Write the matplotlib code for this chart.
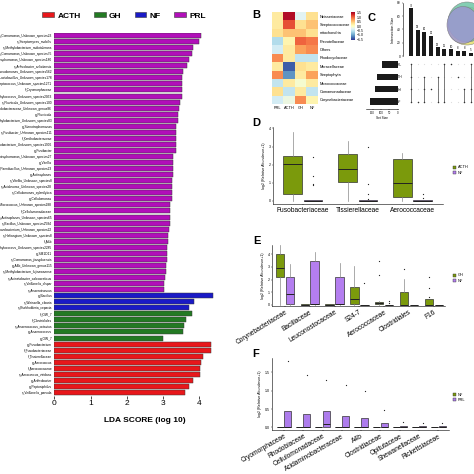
import numpy as np
import matplotlib.pyplot as plt
from matplotlib.patches import Patch, Ellipse
from matplotlib.lines import Line2D

plt.rcParams['font.family'] = ['Liberation Sans', 'DejaVu Sans']

# ---------------- A: LEfSe LDA scores ----------------
prl_names = ['s_Comamonas_Unknown_species23', 's_Streptomyces_mobilis', 's_Methylobacterium_radiotolerans',
             's_Comamonas_Unknown_species75', 's_Stenotrophomonas_Unknown_species180', 's_Arthrobacter_arilaitensis',
             's_Pseudomonas_Unknown_species562', 's_Lactobacillus_Unknown_species178', 's_Streptococcus_Unknown_species1271',
             'f_Cryomorphaceae', 's_Staphylococcus_Unknown_species2053', 's_Fluviicola_Unknown_species100',
             's_Rhodobacteraceae_Unknown_genus86', 'g_Fluviicola', 's_Methylobacterium_Unknown_species83',
             'g_Stenotrophomonas', 's_Fusibacter_Unknown_species111', 'f_Xanthobacteraceae',
             's_Methylobacterium_Unknown_species1906', 'g_Fusibacter', 's_Stenotrophomonas_Unknown_species27',
             'g_Vitellia', 's_Paenibacillus_Unknown_species23', 'g_Actinoplanes', 's_Vitellia_Unknown_species8',
             's_Acidovorax_Unknown_species28', 's_Cellulomonas_xylanilytica', 'g_Cellulomonas',
             's_Micrococcus_Unknown_species288', 'f_Cellulomonadaceae', 's_Actinoplanes_Unknown_species65',
             's_Bacillus_Unknown_species2584', 's_Flavobacterium_Unknown_species22', 's_Haliangium_Unknown_species8',
             'f_A4b', 's_Staphylococcus_Unknown_species2285', 'g_SM1D11', 's_Comamonas_jiangduensis',
             'g_A4b_Unknown_genus115', 's_Methylobacterium_fujisawaense', 's_Acinetobacter_calcoaceticus',
             's_Veillonella_dispar', 's_Anaerotruncus']
prl_lda = [4.05, 3.98, 3.83, 3.81, 3.73, 3.67, 3.55, 3.53, 3.53, 3.51, 3.51, 3.46, 3.44, 3.42,
           3.41, 3.36, 3.35, 3.35, 3.35, 3.35, 3.28, 3.28, 3.28, 3.28, 3.26, 3.25, 3.24, 3.24,
           3.20, 3.20, 3.20, 3.19, 3.17, 3.15, 3.13, 3.12, 3.11, 3.10, 3.09, 3.07, 3.06, 3.04, 3.02]
nf_names = ['g_Bacillus', 's_Weissella_cibaria', 's_Burkholderia_cepacia']
nf_lda = [4.37, 3.86, 3.71]
gh_names = ['f_iOW_7', 'f_Clostridiales', 's_Anaerococcus_octavius', 'g_Anaerococcus', 'g_OW_7']
gh_lda = [3.81, 3.63, 3.58, 3.54, 3.00]
acth_names = ['g_Fusobacterium', 'f_Fusobacteriaceae', 'f_Tissierellaceae', 'g_Aerococcus',
              'f_Aerococcaceae', 's_Aerococcus_viridans', 'g_Arthrobacter', 'g_Peptoniphilus',
              's_Veillonella_parvula']
acth_lda = [4.32, 4.32, 4.10, 4.05, 4.03, 4.03, 3.82, 3.71, 3.60]

lefse_colors = {'ACTH': '#e8171b', 'GH': '#237a23', 'NF': '#1a1ac6', 'PRL': '#b10fb9'}

# ---------------- B: heatmap ----------------
hm_rows = ['Neisseriaceae', 'Streptococcaceae', 'mitochondria', 'Prevotellaceae', 'Others',
           'Rhodocyclaceae', 'Moraxellaceae', 'Streptophyta', 'Micrococcaceae',
           'Comamonadaceae', 'Corynebacteriaceae']
hm_cols = ['PRL', 'ACTH', 'GH', 'NF']
hm_vals = [[0.2, 1.5, -0.3, 0.3],
           [0.2, 1.1, 0.3, 0.5],
           [0.3, 0.5, 0.5, 0.3],
           [-0.6, 0.1, 1.0, 0.9],
           [-0.4, 0.2, 0.7, 0.8],
           [0.8, 0.2, -0.5, -0.5],
           [0.2, -1.4, 0.3, 0.2],
           [0.8, -1.1, 0.2, 0.7],
           [-0.5, 0.2, -0.1, 0.2],
           [0.3, -0.5, 0.2, -0.5],
           [-0.4, -0.2, 0.8, 0.1]]

# ---------------- C: upset ----------------
inter_sizes = [72, 39, 36, 30, 13, 11, 10, 8, 8, 5]
set_names = ['PRL', 'ACTH', 'GH', 'NF']
set_sizes = [95, 125, 137, 165]
membership = [[1, 1, 1, 1], [0, 0, 0, 1], [0, 1, 1, 1], [0, 0, 1, 0], [0, 1, 0, 1],
              [1, 0, 0, 1], [1, 0, 0, 0], [0, 1, 0, 0], [0, 0, 1, 1], [1, 0, 1, 1]]

# ---------------- D: ACTH vs NF ----------------
d_cats = ['Fusobacteriaceae', 'Tissierellaceae', 'Aerococcaceae']
d_acth_q1 = [0.4, 1.05, 0.2]
d_acth_med = [2.05, 1.78, 1.0]
d_acth_q3 = [2.45, 2.6, 2.3]
d_acth_lo = [0, 0, 0]
d_acth_hi = [3.8, 3.3, 2.65]
d_acth_fl = [[], [], []]
d_nf_q1 = [0, 0, 0]
d_nf_med = [0, 0, 0]
d_nf_q3 = [0.03, 0.03, 0.03]
d_nf_lo = [0, 0, 0]
d_nf_hi = [0.03, 0.03, 0.03]
d_nf_fl = [[2.4, 1.35, 0.9, 0.85], [3.0, 0.9, 0.4, 0.1], [0.35, 0.15]]

# ---------------- E: GH vs NF ----------------
e_cats = ['Corynebacteriaceae', 'Bacillaceae', 'Leuconostocaceae', 'S24-7',
          'Aerococcaceae', 'Clostridiales', 'F16']
e_gh_q1 = [2.2, 0, 0, 0.05, 0.05, 0, 0]
e_gh_med = [2.9, 0, 0, 0.5, 0.15, 0.03, 0.03]
e_gh_q3 = [4.0, 0.06, 0.04, 1.45, 0.25, 1.05, 0.45]
e_gh_lo = [0, 0, 0, 0, 0, 0, 0]
e_gh_hi = [4.7, 0.06, 0.04, 3.1, 0.3, 2.05, 0.5]
e_gh_fl = [[], [], [], [], [3.5, 2.4], [2.85], [2.2, 1.35, 0.6]]
e_nf_q1 = [0.05, 0.05, 0.05, 0, 0, 0, 0]
e_nf_med = [0.9, 0.05, 0.05, 0, 0, 0, 0]
e_nf_q3 = [2.2, 3.5, 2.2, 0.03, 0.03, 0.03, 0.03]
e_nf_lo = [0, 0, 0, 0, 0, 0, 0]
e_nf_hi = [3.2, 4.2, 3.3, 0.03, 0.03, 0.03, 0.03]
e_nf_fl = [[], [], [], [1.7], [0.35, 0.15], [], []]

# ---------------- F: NF vs PRL ----------------
f_cats = ['Cryomorphaceae', 'Rhodobiaceae', 'Cellulomonadaceae', 'Acidaminobacteraceae', 'A4b',
          'Clostridiaceae', 'Opitutaceae', 'Shewanellaceae', 'Rickettsiaceae']
f_nf_q3 = [0.02] * 9
f_prl_med = [0.0, 0.0, 0.08, 0.0, 0.0, 0.0, 0.02, 0.02, 0.02]
f_prl_q3 = [0.45, 0.37, 0.44, 0.30, 0.26, 0.13, 0.04, 0.04, 0.04]
f_prl_fl = [[1.8], [1.43], [1.3], [1.15], [1.0], [0.48], [0.15], [0.12], [0.12]]

olive = '#7b9a0c'
violet = '#b47ef0'

W = 474.0
fig = plt.figure(figsize=(4.74, 4.74), dpi=100)


def px_axes(x0, y0, x1, y1):
    return fig.add_axes([x0 / W, 1 - y1 / W, (x1 - x0) / W, (y1 - y0) / W])


def panel_label(x, y, s):
    fig.text(x / W, 1 - y / W, s, fontsize=8, fontweight='bold', ha='center', va='center')


# ===== A =====
names = prl_names + nf_names + gh_names + acth_names
vals = prl_lda + nf_lda + gh_lda + acth_lda
cols = ([lefse_colors['PRL']] * len(prl_lda) + [lefse_colors['NF']] * len(nf_lda) +
        [lefse_colors['GH']] * len(gh_lda) + [lefse_colors['ACTH']] * len(acth_lda))
axA = px_axes(54.3, 32.5, 235.5, 395.5)
ypos = np.arange(len(vals))
axA.barh(ypos, vals, height=0.82, color=cols, edgecolor='#3a3a3a', linewidth=0.35)
axA.set_ylim(len(vals) - 0.5, -0.5)
axA.set_xlim(0, 5)
axA.set_yticks(ypos)
axA.set_yticklabels(names, fontsize=2.3)
axA.tick_params(axis='y', length=0, pad=1.5)
axA.set_xticks([0, 1, 2, 3, 4])
axA.tick_params(axis='x', labelsize=6, length=2, width=0.5, pad=1.5)
for s in axA.spines.values():
    s.set_visible(False)
axA.set_xlabel('LDA SCORE (log 10)', fontsize=6, fontweight='bold', labelpad=7)
handles = [Patch(facecolor=lefse_colors[k], edgecolor='#3a3a3a', linewidth=0.4, label=k)
           for k in ['ACTH', 'GH', 'NF', 'PRL']]
fig.legend(handles=handles, loc='center', bbox_to_anchor=(124 / W, 1 - 16 / W), ncol=4,
           frameon=False, prop={'size': 6, 'weight': 'bold'}, handlelength=1.4, handleheight=0.5,
           handletextpad=0.4, columnspacing=1.6)

# ===== B =====
panel_label(256, 15, 'B')
axB = px_axes(272, 12, 318, 104)
im = axB.imshow(np.array(hm_vals), cmap='RdYlBu_r', vmin=-1.6, vmax=1.6, aspect='auto')
axB.set_xticks(range(len(hm_cols)))
axB.set_xticklabels(hm_cols, fontsize=2.8)
axB.set_yticks(range(len(hm_rows)))
axB.set_yticklabels(hm_rows, fontsize=2.8)
axB.yaxis.tick_right()
axB.tick_params(length=0, pad=1.5)
for s in axB.spines.values():
    s.set_visible(False)
caxB = px_axes(351, 12, 355, 40)
cb = fig.colorbar(im, cax=caxB, ticks=[-1.5, -1, -0.5, 0, 0.5, 1, 1.5])
cb.ax.tick_params(labelsize=2.5, length=0, pad=1)
cb.outline.set_visible(False)

# ===== C =====
panel_label(372, 18, 'C')
axC = px_axes(403, 3, 474, 56)
xi = np.arange(len(inter_sizes))
axC.bar(xi, inter_sizes, width=0.62, color='#1a1a1a')
for x, v in zip(xi, inter_sizes):
    axC.text(x, v + 1, str(v), fontsize=2, ha='center', va='bottom')
axC.set_xlim(-1.2, 9.45)
axC.set_ylim(0, 80)
axC.set_xticks([])
axC.set_yticks([0, 20, 40, 60, 80])
axC.tick_params(axis='y', labelsize=2.3, length=1, width=0.3, pad=0.8)
axC.spines[['top', 'right', 'bottom']].set_visible(False)
axC.spines['left'].set_linewidth(0.4)
axC.set_ylabel('Intersection Size', fontsize=2.5, labelpad=1.5)

# venn glyph
axV = px_axes(440, 0, 474, 48)
axV.set_xlim(440, 474)
axV.set_ylim(48, 0)
axV.axis('off')
for (cx, cy, w, h, c) in [(467, 26, 38, 38, '#e6df6c'), (467, 22, 38, 40, '#6ec6a6'),
                          (463, 25, 32, 37, '#9c97d2')]:
    axV.add_patch(Ellipse((cx, cy), w, h, facecolor=c, edgecolor='#777777', linewidth=0.4, alpha=0.85))

axM = px_axes(403, 57, 474, 109)
axM.set_xlim(-1.2, 9.45)
axM.set_ylim(3.6, -0.6)
mem = np.array(membership)
for j in range(len(set_names)):
    axM.scatter(xi, [j] * len(xi), s=0.8, color='#dddddd', linewidths=0)
for i in range(len(xi)):
    rows = np.where(mem[i] == 1)[0]
    axM.scatter([i] * len(rows), rows, s=1.2, color='#333333', linewidths=0, zorder=3)
    if len(rows) > 1:
        axM.plot([i, i], [rows.min(), rows.max()], color='#444444', linewidth=0.5, zorder=2)
axM.set_yticks(range(len(set_names)))
axM.set_yticklabels(set_names, fontsize=2.3)
axM.tick_params(axis='y', length=0, pad=1)
axM.set_xticks([])
for s in axM.spines.values():
    s.set_visible(False)

axS = px_axes(366, 57, 397.5, 109)
axS.barh(range(len(set_names)), set_sizes, height=0.5, color='#1a1a1a')
axS.set_ylim(3.6, -0.6)
axS.set_xlim(190, 0)
axS.set_yticks([])
axS.set_xticks([0, 50, 100, 150])
axS.tick_params(axis='x', labelsize=2, length=1, width=0.3, pad=0.5)
axS.spines[['top', 'right', 'left']].set_visible(False)
axS.spines['bottom'].set_linewidth(0.4)
axS.set_xlabel('Set Size', fontsize=2.3, labelpad=1)


# ===== box plot helper =====
def stats_list(q1, med, q3, lo, hi, fl):
    return [dict(q1=a, med=b, q3=c, whislo=d, whishi=e, fliers=f)
            for a, b, c, d, e, f in zip(q1, med, q3, lo, hi, fl)]


def draw_boxes(ax, stats, pos, width, color):
    ax.bxp(stats, positions=pos, widths=width, patch_artist=True, manage_ticks=False,
           boxprops=dict(facecolor=color, edgecolor='#333333', linewidth=0.5),
           medianprops=dict(color='#222222', linewidth=0.7),
           whiskerprops=dict(color='#888888', linewidth=0.5),
           capprops=dict(linewidth=0),
           flierprops=dict(marker='o', markersize=0.9, markerfacecolor='#222222',
                           markeredgecolor='none'))


def style_box_axes(ax):
    ax.spines[['top', 'right']].set_visible(False)
    ax.spines['left'].set_linewidth(0.4)
    ax.spines['bottom'].set_linewidth(0.4)
    ax.tick_params(axis='y', labelsize=2.6, length=1, width=0.3, pad=0.8)
    ax.tick_params(axis='x', length=1, width=0.3, pad=1)


def small_legend(ax, labels, colors, y0):
    hs = [Patch(facecolor=c, edgecolor='#333333', linewidth=0.3, label=l) for l, c in zip(labels, colors)]
    fig.legend(handles=hs, loc='upper left', bbox_to_anchor=(449 / W, 1 - y0 / W), frameon=False,
               prop={'size': 2.8}, handlelength=1.0, handleheight=0.8, handletextpad=0.4,
               labelspacing=0.3)


# ===== D =====
panel_label(256, 123, 'D')
axD = px_axes(273, 127, 443, 204)
dx = np.arange(len(d_cats))
draw_boxes(axD, stats_list(d_acth_q1, d_acth_med, d_acth_q3, d_acth_lo, d_acth_hi, d_acth_fl),
           dx - 0.19, 0.34, olive)
draw_boxes(axD, stats_list(d_nf_q1, d_nf_med, d_nf_q3, d_nf_lo, d_nf_hi, d_nf_fl),
           dx + 0.18, 0.34, violet)
axD.set_xlim(-0.55, 2.55)
axD.set_ylim(-0.18, 4.08)
axD.set_xticks(dx)
axD.set_xticklabels(d_cats, fontsize=4.8)
axD.set_yticks([0, 1, 2, 3, 4])
style_box_axes(axD)
axD.set_ylabel('log2 (Relative Abundance+1)', fontsize=2.6, labelpad=1.5)
small_legend(axD, ['ACTH', 'NF'], [olive, violet], 162)

# ===== E =====
panel_label(257, 241, 'E')
axE = px_axes(272, 245, 445, 306)
ex = np.arange(len(e_cats))
draw_boxes(axE, stats_list(e_gh_q1, e_gh_med, e_gh_q3, e_gh_lo, e_gh_hi, e_gh_fl),
           ex - 0.2, 0.34, olive)
draw_boxes(axE, stats_list(e_nf_q1, e_nf_med, e_nf_q3, e_nf_lo, e_nf_hi, e_nf_fl),
           ex + 0.2, 0.34, violet)
axE.set_xlim(-0.52, 6.45)
axE.set_ylim(-0.08, 4.73)
axE.set_xticks(ex)
axE.set_xticklabels(e_cats, fontsize=4.8, rotation=32, ha='right', rotation_mode='anchor')
axE.set_yticks([0, 1, 2, 3, 4])
style_box_axes(axE)
axE.set_ylabel('log2 (Relative Abundance+1)', fontsize=2.6, labelpad=1.5)
small_legend(axE, ['GH', 'NF'], [olive, violet], 270)

# ===== F =====
panel_label(256, 354, 'F')
axF = px_axes(272, 358, 449, 430)
fx = np.arange(len(f_cats))
zeros9 = [0] * len(f_cats)
draw_boxes(axF, stats_list(zeros9, zeros9, f_nf_q3, zeros9, f_nf_q3, [[]] * len(f_cats)),
           fx - 0.19, 0.36, olive)
draw_boxes(axF, stats_list(zeros9, f_prl_med, f_prl_q3, zeros9, f_prl_q3, f_prl_fl),
           fx + 0.19, 0.36, '#ad7cec')
axF.set_xlim(-0.62, 8.55)
axF.set_ylim(-0.07, 1.89)
axF.set_xticks(fx)
axF.set_xticklabels(f_cats, fontsize=4.8, rotation=30, ha='right', rotation_mode='anchor')
axF.set_yticks([0, 0.5, 1.0, 1.5])
axF.set_yticklabels(['0.0', '0.5', '1.0', '1.5'])
style_box_axes(axF)
axF.set_ylabel('log2 (Relative Abundance+1)', fontsize=2.6, labelpad=1.5)
small_legend(axF, ['NF', 'PRL'], [olive, '#ad7cec'], 389)

fig.savefig('out.png', dpi=100)
